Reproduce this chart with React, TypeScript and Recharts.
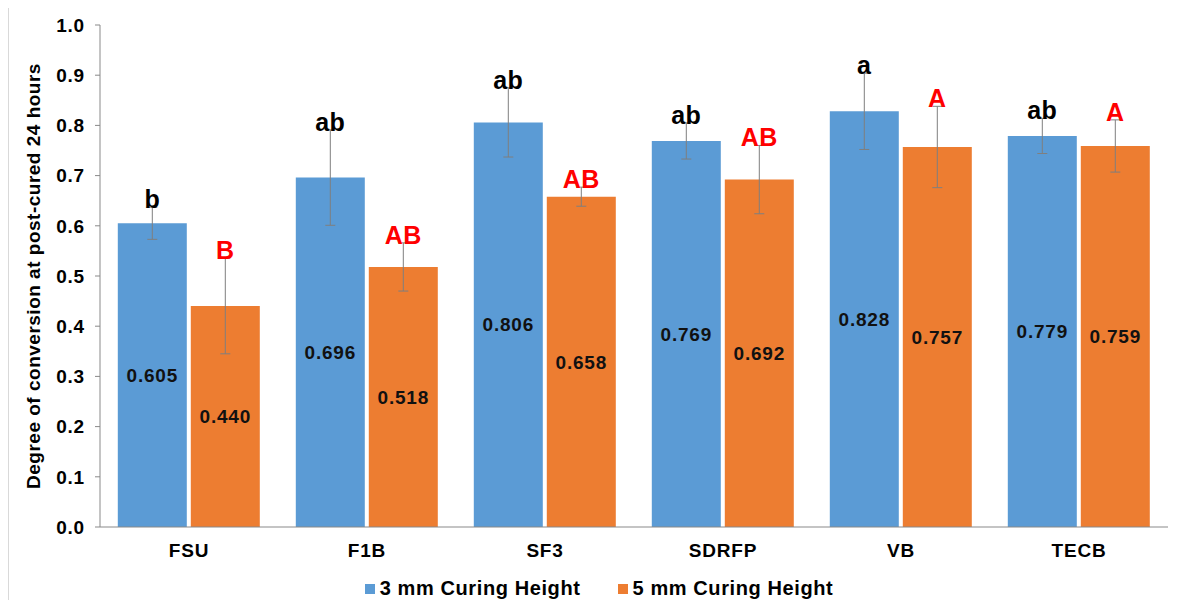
import React from "react";
import { BarChart, Bar, XAxis, YAxis, ErrorBar, LabelList, Legend } from "recharts";

const categories = ["FSU", "F1B", "SF3", "SDRFP", "VB", "TECB"];
const values3mm = [0.605, 0.696, 0.806, 0.769, 0.828, 0.779];
const values5mm = [0.44, 0.518, 0.658, 0.692, 0.757, 0.759];
const errors3mm = [0.032, 0.095, 0.069, 0.036, 0.076, 0.035];
const errors5mm = [0.095, 0.048, 0.019, 0.068, 0.081, 0.052];
const letters3mm = ["b", "ab", "ab", "ab", "a", "ab"];
const letters5mm = ["B", "AB", "AB", "AB", "A", "A"];
const yTicks = [0, 0.1, 0.2, 0.3, 0.4, 0.5, 0.6, 0.7, 0.8, 0.9, 1.0];

const BLUE = "#5b9bd5";
const ORANGE = "#ed7d31";
const FONT = "'Liberation Sans', Arial, sans-serif";

const data = categories.map((c, i) => ({
  name: c,
  v3: values3mm[i],
  v5: values5mm[i],
  e3: errors3mm[i],
  e5: errors5mm[i],
  l3: letters3mm[i],
  l5: letters5mm[i],
}));

const makeLetterLabel = (color: string) => (props: any) => {
  const { x, y, width, height, value } = props;
  if (value == null) return null;
  const [letter, errS, valS] = String(value).split("|");
  const err = parseFloat(errS);
  const val = parseFloat(valS);
  const pxPerUnit = Number(height) / val;
  const top = Number(y) - err * pxPerUnit;
  return (
    <text
      x={Number(x) + Number(width) / 2}
      y={top + 1}
      textAnchor="middle"
      fill={color}
      fontFamily={FONT}
      fontWeight="bold"
      fontSize={25}
      letterSpacing={0.5}
    >
      {letter}
    </text>
  );
};

const renderLegend = () => (
  <div
    style={{
      display: "flex",
      justifyContent: "center",
      gap: 37,
      fontFamily: FONT,
      fontWeight: "bold",
      fontSize: 20,
      letterSpacing: 0.6,
      color: "#000",
      marginLeft: 5,
    }}
  >
    {[
      { c: BLUE, t: "3 mm Curing Height" },
      { c: ORANGE, t: "5 mm Curing Height" },
    ].map((it) => (
      <div key={it.t} style={{ display: "flex", alignItems: "center" }}>
        <span style={{ display: "inline-block", width: 10, height: 10, background: it.c, marginRight: 5 }} />
        <span>{it.t}</span>
      </div>
    ))}
  </div>
);

const tickStyle = { fill: "#000", fontFamily: FONT, fontWeight: "bold", fontSize: 19, letterSpacing: 0.8 };

export default function App() {
  return (
    <div style={{ width: 1177, height: 600, border: "1px solid #d9d9d9", boxSizing: "border-box", background: "#fff", marginTop: -1 }}>
      <BarChart
        width={1175}
        height={592}
        data={data}
        margin={{ top: 17, right: 16, left: 24, bottom: 20 }}
        barCategoryGap="10%"
        barGap={4}
      >
        <XAxis
          dataKey="name"
          tickLine={false}
          axisLine={{ stroke: "#898989" }}
          tick={tickStyle}
          tickMargin={11}
        />
        <YAxis
          width={67}
          domain={[0, 1]}
          ticks={yTicks}
          interval={0}
          tickFormatter={(v: number) => v.toFixed(1)}
          axisLine={{ stroke: "#898989" }}
          tickLine={{ stroke: "#898989" }}
          tickSize={5}
          tickMargin={10}
          tick={tickStyle}
          label={{
            value: "Degree of conversion at post-cured 24 hours",
            angle: -90,
            position: "insideLeft",
            offset: 0,
            style: { textAnchor: "middle", fill: "#000", fontFamily: FONT, fontWeight: "bold", fontSize: 19, letterSpacing: 0.5 },
          }}
        />
        <Legend
          content={renderLegend}
          wrapperStyle={{ position: "absolute", top: 569, left: 0, width: 1175 }}
        />
        <Bar dataKey="v3" name="3 mm Curing Height" fill={BLUE} isAnimationActive={false}>
          <ErrorBar dataKey="e3" width={5} stroke="#7f7f7f" strokeWidth={1} />
          <LabelList
            dataKey="v3"
            position="center"
            formatter={(v: any) => Number(v).toFixed(3)}
            style={{ fill: "#111", fontFamily: FONT, fontWeight: "bold", fontSize: 19, letterSpacing: 0.8 }}
          />
          <LabelList dataKey={(d: any) => `${d.l3}|${d.e3}|${d.v3}`} content={makeLetterLabel("#000")} />
        </Bar>
        <Bar dataKey="v5" name="5 mm Curing Height" fill={ORANGE} isAnimationActive={false}>
          <ErrorBar dataKey="e5" width={5} stroke="#7f7f7f" strokeWidth={1} />
          <LabelList
            dataKey="v5"
            position="center"
            formatter={(v: any) => Number(v).toFixed(3)}
            style={{ fill: "#111", fontFamily: FONT, fontWeight: "bold", fontSize: 19, letterSpacing: 0.8 }}
          />
          <LabelList dataKey={(d: any) => `${d.l5}|${d.e5}|${d.v5}`} content={makeLetterLabel("#ff0000")} />
        </Bar>
      </BarChart>
    </div>
  );
}
